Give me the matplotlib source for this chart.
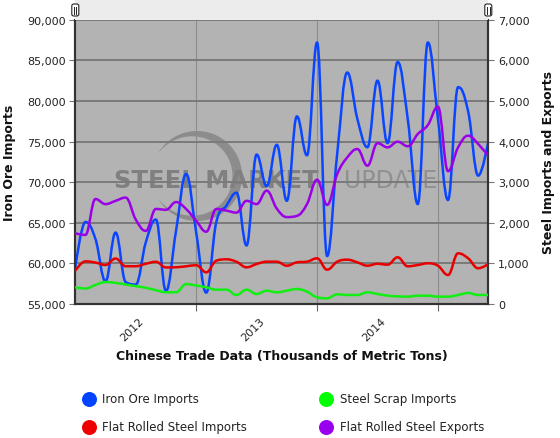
import numpy as np
import matplotlib
matplotlib.use("Agg")
import matplotlib.pyplot as plt
from matplotlib.path import Path
from matplotlib.patches import PathPatch, Polygon, FancyBboxPatch, Rectangle
from matplotlib.lines import Line2D
from matplotlib.ticker import FuncFormatter, FixedLocator

# monthly values, Jan 2012 .. Jun 2015 (thousands of metric tons)
iron_ore = [59500, 65100, 63000, 57800, 63800, 57700, 57400, 62600, 65400, 56600,
            64000, 71000, 63800, 56400, 65100, 67100, 68700, 62200, 73400, 69500,
            74600, 67700, 78100, 73300, 87200, 60900, 73500, 83500, 77800, 74300,
            82500, 74800, 84800, 77800, 67300, 87200, 77800, 67800, 81700, 78700,
            70800, 75000]
scrap_imports = [410, 380, 470, 540, 520, 480, 440, 400, 340, 290,
                 290, 490, 455, 411, 353, 353, 222, 353, 246, 328,
                 288, 328, 369, 304, 164, 140, 238, 222, 222, 288,
                 246, 205, 189, 181, 205, 205, 181, 181, 222, 271,
                 222, 222]
flat_imports = [820, 1050, 1020, 960, 1120, 930, 930, 990, 1040, 900,
                905, 928, 955, 780, 1066, 1100, 1040, 903, 985, 1042,
                1042, 943, 1026, 1042, 1125, 845, 1042, 1091, 1026, 943,
                990, 968, 1150, 928, 960, 1002, 943, 714, 1248, 1125,
                879, 985]
flat_exports = [1740, 1700, 2585, 2460, 2540, 2620, 2080, 1800, 2340, 2320,
                2510, 2340, 2050, 1780, 2340, 2300, 2250, 2540, 2460, 2790,
                2350, 2140, 2170, 2460, 3060, 2440, 3200, 3610, 3816, 3405,
                3960, 3857, 3996, 3885, 4185, 4407, 4860, 3270, 3857, 4144,
                3939, 3645]
years = ["2012", "2013", "2014"]
months = np.arange(len(iron_ore))

W, H = 560, 439


def fx(px):
    return px / W


def fy(py):
    return 1 - py / H


def spline_path(xs, ys):
    # highcharts style spline
    n = len(xs)
    left = [None] * n
    right = [None] * n
    for i in range(1, n - 1):
        x, y = xs[i], ys[i]
        lx, ly = xs[i - 1], ys[i - 1]
        nx, ny = xs[i + 1], ys[i + 1]
        lcx = (1.5 * x + lx) / 2.5
        lcy = (1.5 * y + ly) / 2.5
        rcx = (1.5 * x + nx) / 2.5
        rcy = (1.5 * y + ny) / 2.5
        corr = (rcy - lcy) * (rcx - x) / (rcx - lcx) + y - rcy
        lcy += corr
        rcy += corr
        if lcy > ly and lcy > y:
            lcy = max(ly, y)
            rcy = 2 * y - lcy
        elif lcy < ly and lcy < y:
            lcy = min(ly, y)
            rcy = 2 * y - lcy
        if rcy > ny and rcy > y:
            rcy = max(ny, y)
            lcy = 2 * y - rcy
        elif rcy < ny and rcy < y:
            rcy = min(ny, y)
            lcy = 2 * y - rcy
        left[i] = (lcx, lcy)
        right[i] = (rcx, rcy)
    verts = [(xs[0], ys[0])]
    codes = [Path.MOVETO]
    for i in range(1, n):
        c1 = right[i - 1] or (xs[i - 1], ys[i - 1])
        c2 = left[i] or (xs[i], ys[i])
        verts += [c1, c2, (xs[i], ys[i])]
        codes += [Path.CURVE4] * 3
    return Path(verts, codes)


def draw_spline(ax, xs, ys, color):
    patch = PathPatch(spline_path(list(xs), list(ys)), fill=False, edgecolor=color,
                      lw=1.8, capstyle="round", joinstyle="round", zorder=3)
    ax.add_patch(patch)


fig = plt.figure(figsize=(5.6, 4.39), dpi=100)
plt.rcParams["font.family"] = ["DejaVu Sans"]

x0, x1, y0, y1 = 75.3, 488.3, 20.7, 305
ax = fig.add_axes([fx(x0), fy(y1), (x1 - x0) / W, (y1 - y0) / H])
ax.set_facecolor("#b3b3b3")
ax.set_axisbelow(True)

# navigator band on top
fig.add_artist(Rectangle((fx(x0), fy(y0)), (x1 - x0) / W, y0 / H - 0.002,
                         transform=fig.transFigure, facecolor="#ececec", edgecolor="none"))
for hx in [x0, x1]:
    fig.add_artist(FancyBboxPatch((fx(hx - 3.5), fy(17)), 7 / W, 12 / H,
                                  boxstyle="round,pad=0,rounding_size=0.004",
                                  transform=fig.transFigure, facecolor="white",
                                  edgecolor="#222222", lw=0.8))
    for dx in [-1.2, 1.2]:
        fig.add_artist(Line2D([fx(hx + dx), fx(hx + dx)], [fy(14.5), fy(7.5)],
                              transform=fig.transFigure, color="#222222", lw=0.7))

# watermark
th = np.linspace(np.radians(150), np.radians(-150), 120)
wth = 9.5 * np.cos(th * 0.6)
cx, cy, r = 197, 177, 45
outer = [(fx(cx + r * np.cos(t)), fy(cy - r * np.sin(t))) for t in th]
inner = [(fx(cx + (r - w) * np.cos(t)), fy(cy - (r - w) * np.sin(t)))
         for t, w in zip(th[::-1], wth[::-1])]
arc = Polygon(outer + inner, closed=True, transform=fig.transFigure,
              facecolor="#8c8c8c", edgecolor="none", zorder=0.3)
ax.add_artist(arc)
ax.text(fx(114), fy(188), "STEEL MARKET", transform=fig.transFigure, fontsize=17.5,
        fontweight="bold", color="#808080", ha="left", va="baseline", zorder=0.4)
ax.text(fx(344), fy(188), "UPDATE", transform=fig.transFigure, fontsize=17,
        color="#909090", ha="left", va="baseline", zorder=0.4)

ax2 = ax.twinx()

draw_spline(ax, months, iron_ore, "#0a46ff")
draw_spline(ax2, months, scrap_imports, "#11ee11")
draw_spline(ax2, months, flat_imports, "#e80000")
draw_spline(ax2, months, flat_exports, "#9a00e8")

ax.set_xlim(0, len(months) - 1)
ax.set_ylim(55000, 90000)
ax2.set_ylim(0, 7000)

ax.yaxis.set_major_locator(FixedLocator(np.arange(55000, 90001, 5000)))
ax2.yaxis.set_major_locator(FixedLocator(np.arange(0, 7001, 1000)))
fmt = FuncFormatter(lambda v, p: f"{v:,.0f}")
ax.yaxis.set_major_formatter(fmt)
ax2.yaxis.set_major_formatter(fmt)

ax.grid(axis="y", color="#7a7a7a", lw=1.4)

# year gridlines and centered labels
ax.set_xticks([12, 24, 36], minor=True)
ax.set_xticks([6.3, 18.3, 30.3])
ax.set_xticklabels(years)
ax.grid(axis="x", which="minor", color="#8c8c8c", lw=0.8)
ax.tick_params(axis="x", which="major", length=0, pad=8, labelsize=8, labelcolor="#222222")
ax.tick_params(axis="x", which="minor", length=5, width=0.8, color="#666666", direction="out")
for lab in ax.get_xticklabels():
    lab.set_rotation(45)
    lab.set_ha("right")
    lab.set_va("top")
    lab.set_rotation_mode("anchor")

ax.tick_params(axis="y", length=4, width=0.8, color="#777777", labelsize=8,
               labelcolor="#222222", pad=3)
ax2.tick_params(axis="y", length=4, width=0.8, color="#777777", labelsize=8,
                labelcolor="#222222", pad=3)

for a in [ax, ax2]:
    a.spines["top"].set_visible(False)
    for s in ["left", "right", "bottom"]:
        a.spines[s].set_color("#333333")
        a.spines[s].set_linewidth(1.5)

ax.set_ylabel("Iron Ore Imports", fontsize=9, fontweight="bold", color="#111111",
              va="center")
ax.yaxis.set_label_coords((10 - x0) / (x1 - x0), 0.5)
ax2.set_ylabel("Steel Imports and Exports", fontsize=9, fontweight="bold", color="#111111",
               va="center")
ax2.yaxis.set_label_coords((549 - x0) / (x1 - x0), 0.5)

fig.text(fx(282), fy(357), "Chinese Trade Data (Thousands of Metric Tons)",
         fontsize=9, fontweight="bold", color="#111111", ha="center", va="center")

# legend
legend_items = [
    ("Iron Ore Imports", "#0044ff", 88.5, 400),
    ("Steel Scrap Imports", "#00ff00", 326, 400),
    ("Flat Rolled Steel Imports", "#ee0000", 88.5, 427.5),
    ("Flat Rolled Steel Exports", "#9900ee", 326, 427.5),
]
for name, col, lx, ly in legend_items:
    fig.add_artist(Line2D([fx(lx)], [fy(ly)], transform=fig.transFigure, marker="o",
                          markersize=10.8, color=col, markeredgewidth=0, linestyle="none"))
    fig.text(fx(lx + 13.5), fy(ly), name, fontsize=8.5, color="#222222",
             ha="left", va="center")

fig.savefig("out.png", dpi=100, facecolor="white")
